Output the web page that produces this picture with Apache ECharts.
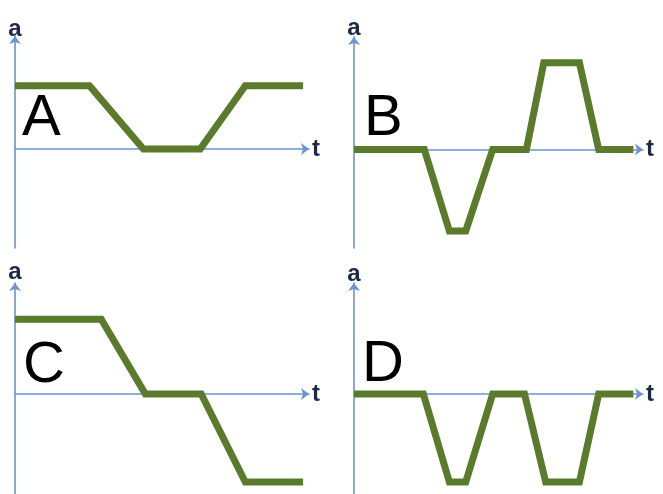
<!DOCTYPE html>
<html>
<head>
<meta charset="utf-8">
<script src="https://cdn.jsdelivr.net/npm/echarts@6/dist/echarts.min.js"></script>
<style>
  html, body { margin: 0; padding: 0; background: #ffffff; }
  #root { width: 663px; height: 494px; }
</style>
</head>
<body>
<div id="root"></div>
<script>
const panelNames = ['A', 'B', 'C', 'D'];

const tA = [0, 7.6, 13.1, 18.9, 23.5, 29.4];
const aA = [7.2, 7.2, 0, 0, 7.2, 7.2];

const tB = [0, 7.3, 9.9, 11.6, 14.4, 17.9, 19.7, 23.4, 25.4, 29.0];
const aB = [0, 0, -9.3, -9.3, 0, 0, 9.9, 9.9, 0, 0];

const tC = [0, 8.8, 13.3, 19.0, 23.5, 29.4];
const aC = [8.5, 8.5, 0, 0, -10, -10];

const tD = [0, 7.2, 9.9, 11.6, 14.4, 17.7, 19.9, 23.4, 25.4, 29.0];
const aD = [0, 0, -10, -10, 0, 0, -10, -10, 0, 0];

const tMax = 30;
const topRange = [-11.25, 12.84];
const bottomRange = [-11.36, 12.61];

const axisColor = '#6b95d0';
const nameColor = '#1c2a48';
const lineColor = '#5a7a2c';

const grids = [
    { left: 15, top: 36, width: 294, height: 212 },
    { left: 354, top: 37, width: 289, height: 211 },
    { left: 15, top: 283, width: 294, height: 211 },
    { left: 354, top: 283, width: 289, height: 211 }
];
const aNameGap = [-5, -3, -1, -3];
const ranges = [topRange, topRange, bottomRange, bottomRange];
const series = [[tA, aA], [tB, aB], [tC, aC], [tD, aD]];
const letterPos = [[22, 90], [364, 90], [23, 337], [362, 336]];

const pairs = (ts, as) => ts.map((t, i) => [t, as[i]]);

const option = {
    animation: false,
    backgroundColor: '#ffffff',
    title: panelNames.map((n, i) => ({
        text: n,
        left: letterPos[i][0],
        top: letterPos[i][1],
        padding: 0,
        textStyle: {
            fontFamily: 'Liberation Sans',
            fontSize: 58,
            fontWeight: 'normal',
            lineHeight: 58,
            color: '#000000'
        }
    })),
    grid: grids,
    xAxis: grids.map((g, i) => ({
        type: 'value',
        gridIndex: i,
        min: 0,
        max: tMax,
        name: 't',
        nameLocation: 'end',
        nameGap: 3,
        nameTextStyle: { fontFamily: 'Liberation Sans', fontSize: 24, fontWeight: 'bold', color: nameColor, verticalAlign: 'middle' },
        axisLine: {
            onZero: true,
            symbol: ['none', 'arrow'],
            symbolSize: [9, 8],
            lineStyle: { color: axisColor, width: 1.6 }
        },
        axisTick: { show: false },
        axisLabel: { show: false },
        splitLine: { show: false }
    })),
    yAxis: grids.map((g, i) => ({
        type: 'value',
        gridIndex: i,
        min: ranges[i][0],
        max: ranges[i][1],
        name: 'a',
        nameLocation: 'end',
        nameGap: aNameGap[i],
        nameTextStyle: { fontFamily: 'Liberation Sans', fontSize: 24, fontWeight: 'bold', color: nameColor, align: 'center' },
        axisLine: {
            onZero: false,
            symbol: ['none', 'arrow'],
            symbolSize: [9, 8],
            lineStyle: { color: axisColor, width: 1.6 }
        },
        axisTick: { show: false },
        axisLabel: { show: false },
        splitLine: { show: false }
    })),
    series: series.map((s, i) => ({
        type: 'line',
        xAxisIndex: i,
        yAxisIndex: i,
        data: pairs(s[0], s[1]),
        showSymbol: false,
        lineStyle: { color: lineColor, width: 7, join: 'miter' },
        z: 5
    }))
};

const chart = echarts.init(document.getElementById('root'), null, { renderer: 'canvas' });
chart.setOption(option);
</script>
</body>
</html>
